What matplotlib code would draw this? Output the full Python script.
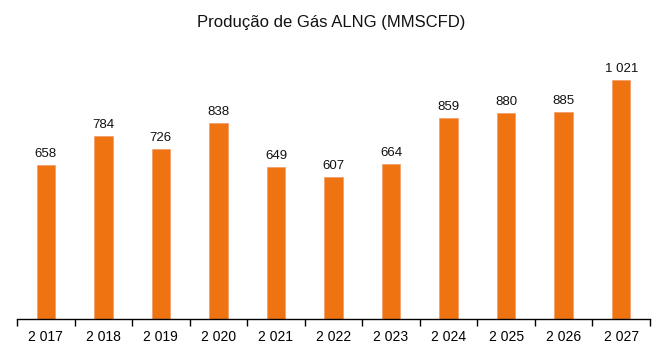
import matplotlib
matplotlib.use("Agg")
import matplotlib.pyplot as plt
import numpy as np

years = ["2 017", "2 018", "2 019", "2 020", "2 021", "2 022", "2 023", "2 024", "2 025", "2 026", "2 027"]
values = [658, 784, 726, 838, 649, 607, 664, 859, 880, 885, 1021]
labels = ["658", "784", "726", "838", "649", "607", "664", "859", "880", "885", "1 021"]

plt.rcParams['font.family'] = ['Liberation Sans', 'DejaVu Sans']
fig = plt.figure(figsize=(6.56, 3.54), dpi=100)
ax = fig.add_axes([17/656, 35/354, 633/656, (319-62)/354])

x = np.arange(len(years))
ax.bar(x, values, width=0.32, color="#EF7311", edgecolor="#F39A6A", linewidth=0.5)
for xi, v, l in zip(x, values, labels):
    ax.text(xi, v + 22, l, ha="center", va="bottom", fontsize=9.5, color="#111111")

ax.set_xlim(-0.5, len(years) - 0.5)
ax.set_ylim(0, 1100)
ax.set_yticks([])
for s in ["top", "right", "left"]:
    ax.spines[s].set_visible(False)
ax.spines["bottom"].set_linewidth(1.0)
ax.set_xticks(np.arange(-0.5, len(years)), minor=False)
ax.set_xticklabels([])
ax.tick_params(axis="x", length=5, width=1, direction="out")
ax.set_xticks(x, minor=True)
ax.set_xticklabels(years, minor=True, fontsize=10)
ax.tick_params(axis="x", which="minor", length=0, pad=8)

fig.text(331/656, 1 - 22/354, "Produção de Gás ALNG (MMSCFD)", ha="center", va="center", fontsize=12, color="#111111")

fig.savefig("out.png", dpi=100)
